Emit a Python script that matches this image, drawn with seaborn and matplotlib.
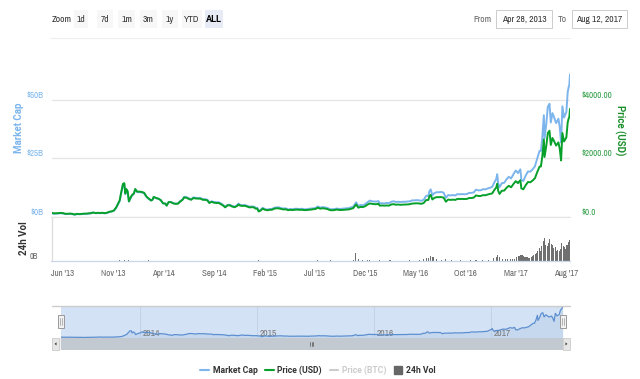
import numpy as np
import pandas as pd
import matplotlib
matplotlib.use("Agg")
import matplotlib.pyplot as plt
from matplotlib import font_manager
from matplotlib.lines import Line2D
from matplotlib.patches import Rectangle, Polygon
import seaborn as sns

# ---- data ----
dates = [
    # 2013
    "2013-04-28", "2013-05-05", "2013-05-12", "2013-05-19", "2013-05-26", "2013-06-02", "2013-06-09", "2013-06-16", "2013-06-23", "2013-06-30",
    "2013-07-07", "2013-07-14", "2013-07-21", "2013-07-28", "2013-08-04", "2013-08-11", "2013-08-18", "2013-08-25", "2013-09-01", "2013-09-08",
    "2013-09-15", "2013-09-22", "2013-09-29", "2013-10-06", "2013-10-13", "2013-10-20", "2013-10-27", "2013-11-03", "2013-11-10", "2013-11-17",
    "2013-11-20", "2013-11-24", "2013-11-30", "2013-12-04", "2013-12-07", "2013-12-10", "2013-12-14", "2013-12-18", "2013-12-22", "2013-12-27",
    # 2014
    "2014-01-02", "2014-01-06", "2014-01-12", "2014-01-19", "2014-01-26", "2014-02-02", "2014-02-09", "2014-02-16", "2014-02-23", "2014-02-27",
    "2014-03-03", "2014-03-10", "2014-03-17", "2014-03-24", "2014-03-31", "2014-04-07", "2014-04-11", "2014-04-17", "2014-04-24", "2014-05-01",
    "2014-05-08", "2014-05-15", "2014-05-22", "2014-05-29", "2014-06-03", "2014-06-10", "2014-06-17", "2014-06-24", "2014-07-01", "2014-07-08",
    "2014-07-15", "2014-07-22", "2014-07-29", "2014-08-05", "2014-08-12", "2014-08-18", "2014-08-25", "2014-09-01", "2014-09-08", "2014-09-15",
    "2014-09-22", "2014-09-29", "2014-10-05", "2014-10-12", "2014-10-19", "2014-10-26", "2014-11-02", "2014-11-09", "2014-11-14", "2014-11-19",
    "2014-11-26", "2014-12-03", "2014-12-10", "2014-12-17", "2014-12-24", "2014-12-31",
    # 2015
    "2015-01-05", "2015-01-10", "2015-01-14", "2015-01-20", "2015-01-26", "2015-02-02", "2015-02-09", "2015-02-16", "2015-02-23", "2015-03-02",
    "2015-03-09", "2015-03-16", "2015-03-23", "2015-03-30", "2015-04-06", "2015-04-13", "2015-04-20", "2015-04-27", "2015-05-04", "2015-05-11",
    "2015-05-18", "2015-05-25", "2015-06-01", "2015-06-08", "2015-06-15", "2015-06-22", "2015-06-29", "2015-07-06", "2015-07-12", "2015-07-19",
    "2015-07-26", "2015-08-02", "2015-08-09", "2015-08-18", "2015-08-25", "2015-09-01", "2015-09-08", "2015-09-15", "2015-09-22", "2015-09-29",
    "2015-10-06", "2015-10-13", "2015-10-20", "2015-10-27", "2015-11-03", "2015-11-05", "2015-11-11", "2015-11-18", "2015-11-25", "2015-12-02",
    "2015-12-09", "2015-12-16", "2015-12-23", "2015-12-30",
    # 2016
    "2016-01-06", "2016-01-11", "2016-01-15", "2016-01-22", "2016-01-29", "2016-02-05", "2016-02-12", "2016-02-19", "2016-02-26", "2016-03-04",
    "2016-03-11", "2016-03-18", "2016-03-25", "2016-04-01", "2016-04-08", "2016-04-15", "2016-04-22", "2016-04-29", "2016-05-06", "2016-05-13",
    "2016-05-20", "2016-05-27", "2016-06-03", "2016-06-10", "2016-06-13", "2016-06-17", "2016-06-22", "2016-06-28", "2016-07-05", "2016-07-12",
    "2016-07-19", "2016-07-26", "2016-08-02", "2016-08-09", "2016-08-16", "2016-08-23", "2016-08-30", "2016-09-06", "2016-09-13", "2016-09-20",
    "2016-09-27", "2016-10-04", "2016-10-11", "2016-10-18", "2016-10-25", "2016-11-01", "2016-11-08", "2016-11-15", "2016-11-22", "2016-11-29",
    "2016-12-06", "2016-12-13", "2016-12-20", "2016-12-27",
    # 2017
    "2017-01-01", "2017-01-04", "2017-01-07", "2017-01-11", "2017-01-18", "2017-01-25", "2017-02-01", "2017-02-08", "2017-02-15", "2017-02-22",
    "2017-03-01", "2017-03-08", "2017-03-10", "2017-03-15", "2017-03-18", "2017-03-24", "2017-03-31", "2017-04-07", "2017-04-14", "2017-04-21",
    "2017-04-28", "2017-05-05", "2017-05-12", "2017-05-16", "2017-05-20", "2017-05-25", "2017-05-27", "2017-06-01", "2017-06-06", "2017-06-11",
    "2017-06-15", "2017-06-20", "2017-06-25", "2017-07-01", "2017-07-08", "2017-07-12", "2017-07-16", "2017-07-20", "2017-07-25", "2017-08-01",
    "2017-08-05", "2017-08-08", "2017-08-10", "2017-08-12",
]

price_usd = [
    135, 115, 117, 123, 131, 122, 100, 100, 108, 97,
    76, 97, 91, 95, 105, 104, 115, 122, 146, 126,
    132, 129, 134, 122, 138, 170, 185, 217, 330, 490,
    560, 800, 1130, 1150, 800, 950, 880, 530, 630, 740,
    800, 950, 860, 860, 850, 820, 690, 620, 560, 580,
    680, 640, 620, 570, 460, 450, 380, 500, 500, 455,
    440, 445, 520, 580, 660, 650, 610, 580, 640, 625,
    620, 620, 580, 580, 560, 470, 510, 480, 470, 470,
    430, 380, 320, 390, 390, 350, 325, 360, 420, 380,
    370, 375, 350, 320, 325, 320,
    275, 275, 180, 210, 275, 240, 220, 235, 238, 275,
    290, 285, 265, 248, 255, 224, 235, 228, 240, 242,
    235, 238, 225, 228, 236, 245, 257, 270, 310, 275,
    290, 280, 265, 225, 220, 230, 245, 230, 230, 237,
    246, 250, 270, 295, 400, 420, 310, 335, 330, 360,
    415, 455, 440, 430,
    430, 445, 380, 385, 380, 385, 380, 420, 430, 410,
    418, 408, 415, 417, 420, 430, 450, 455, 460, 455,
    442, 470, 570, 575, 700, 750, 590, 645, 670, 670,
    672, 655, 515, 590, 575, 585, 575, 610, 608, 610,
    605, 610, 640, 640, 655, 730, 710, 710, 740, 735,
    760, 780, 800, 930,
    1000, 1130, 890, 780, 890, 895, 990, 1060, 1010, 1120,
    1220, 1150, 1190, 1250, 970, 940, 1080, 1190, 1180, 1240,
    1320, 1530, 1720, 1720, 2040, 2650, 2050, 2400, 2870, 2950,
    2460, 2700, 2590, 2440, 2550, 2330, 1930, 2870, 2580, 2720,
    3230, 3370, 3420, 3700,
]

market_cap_b = [
    1.50, 1.28, 1.30, 1.37, 1.47, 1.37, 1.12, 1.13, 1.22, 1.10,
    0.86, 1.10, 1.04, 1.09, 1.21, 1.20, 1.33, 1.42, 1.70, 1.47,
    1.54, 1.51, 1.57, 1.43, 1.62, 2.00, 2.18, 2.57, 3.92, 5.83,
    6.67, 9.55, 13.5, 13.8, 9.6, 11.4, 10.6, 6.4, 7.6, 8.95,
    9.7, 11.6, 10.5, 10.5, 10.4, 10.0, 8.5, 7.6, 6.9, 7.2,
    8.4, 7.9, 7.7, 7.1, 5.7, 5.6, 4.8, 6.3, 6.3, 5.8,
    5.6, 5.7, 6.7, 7.4, 8.5, 8.4, 7.9, 7.5, 8.3, 8.1,
    8.0, 8.0, 7.5, 7.5, 7.3, 6.1, 6.6, 6.3, 6.2, 6.2,
    5.7, 5.0, 4.2, 5.1, 5.1, 4.6, 4.3, 4.8, 5.6, 5.1,
    4.9, 5.0, 4.7, 4.3, 4.4, 4.3,
    3.8, 3.8, 2.5, 2.9, 3.8, 3.3, 3.0, 3.3, 3.3, 3.8,
    4.0, 4.0, 3.7, 3.5, 3.6, 3.1, 3.3, 3.2, 3.4, 3.4,
    3.3, 3.4, 3.2, 3.2, 3.4, 3.5, 3.6, 3.8, 4.4, 3.9,
    4.1, 4.0, 3.8, 3.2, 3.2, 3.3, 3.5, 3.3, 3.4, 3.5,
    3.6, 3.7, 4.0, 4.3, 5.9, 6.2, 4.6, 5.0, 4.9, 5.4,
    6.2, 6.9, 6.6, 6.5,
    6.5, 6.7, 5.7, 5.8, 5.7, 5.9, 5.8, 6.4, 6.6, 6.3,
    6.4, 6.3, 6.4, 6.4, 6.5, 6.6, 7.0, 7.0, 7.1, 7.0,
    6.8, 7.3, 8.9, 9.0, 10.9, 11.7, 9.2, 10.1, 10.5, 10.5,
    10.6, 10.3, 8.1, 9.3, 9.1, 9.3, 9.1, 9.7, 9.6, 9.7,
    9.6, 9.7, 10.2, 10.2, 10.4, 11.6, 11.3, 11.3, 11.8, 11.7,
    12.1, 12.4, 12.8, 14.9,
    16.1, 18.2, 14.3, 12.6, 14.4, 14.5, 16.0, 17.1, 16.4, 18.2,
    19.8, 18.7, 19.3, 20.3, 15.8, 15.3, 17.6, 19.4, 19.3, 20.3,
    21.6, 25.0, 28.2, 28.2, 33.4, 43.5, 33.6, 39.4, 47.1, 48.4,
    40.4, 44.4, 42.6, 40.1, 42.0, 38.4, 31.8, 47.3, 42.5, 44.9,
    53.3, 55.6, 56.5, 61.0,
]

vol_dates = [
    "2013-05-15", "2013-06-15", "2013-07-15", "2013-08-15", "2013-09-15", "2013-10-15", "2013-11-20", "2013-12-04", "2013-12-18",
    "2014-01-15", "2014-02-15", "2014-03-15", "2014-04-11", "2014-05-15", "2014-06-15", "2014-07-15", "2014-08-15", "2014-09-15",
    "2014-10-15", "2014-11-15", "2014-12-15",
    "2015-01-14", "2015-02-15", "2015-03-15", "2015-04-15", "2015-05-15", "2015-06-15", "2015-07-12", "2015-08-18", "2015-09-15",
    "2015-10-15", "2015-10-27", "2015-11-04", "2015-11-11", "2015-11-25", "2015-12-09", "2015-12-16",
    "2016-01-15", "2016-02-15", "2016-03-15", "2016-04-15", "2016-05-15", "2016-05-27", "2016-06-03", "2016-06-10", "2016-06-17",
    "2016-06-24", "2016-07-05", "2016-07-19", "2016-08-02", "2016-08-20", "2016-09-15", "2016-10-15", "2016-11-01", "2016-11-20",
    "2016-12-10", "2016-12-24",
    "2017-01-01", "2017-01-05", "2017-01-11", "2017-01-20", "2017-01-28", "2017-02-05", "2017-02-12", "2017-02-19", "2017-02-26",
    "2017-03-03", "2017-03-08", "2017-03-12", "2017-03-16", "2017-03-20", "2017-03-24", "2017-03-28",
    "2017-04-01", "2017-04-05", "2017-04-09", "2017-04-13", "2017-04-17", "2017-04-21", "2017-04-25", "2017-04-29",
    "2017-05-03", "2017-05-07", "2017-05-11", "2017-05-15", "2017-05-19", "2017-05-23", "2017-05-27", "2017-05-31",
    "2017-06-04", "2017-06-08", "2017-06-12", "2017-06-16", "2017-06-20", "2017-06-24", "2017-06-28",
    "2017-07-02", "2017-07-06", "2017-07-10", "2017-07-14", "2017-07-18", "2017-07-22", "2017-07-26", "2017-07-30",
    "2017-08-03", "2017-08-07", "2017-08-11",
]

vol_b = [
    0.02, 0.02, 0.02, 0.02, 0.02, 0.03, 0.08, 0.10, 0.06,
    0.04, 0.05, 0.03, 0.04, 0.02, 0.03, 0.02, 0.03, 0.03,
    0.03, 0.04, 0.02,
    0.06, 0.03, 0.03, 0.03, 0.02, 0.02, 0.05, 0.05, 0.03,
    0.04, 0.12, 0.75, 0.20, 0.08, 0.10, 0.12,
    0.08, 0.05, 0.04, 0.05, 0.06, 0.15, 0.25, 0.30, 0.45,
    0.35, 0.18, 0.12, 0.20, 0.08, 0.07, 0.08, 0.12, 0.10,
    0.12, 0.25,
    0.35, 0.55, 0.40, 0.20, 0.15, 0.18, 0.15, 0.18, 0.22,
    0.40, 0.45, 0.50, 0.55, 0.60, 0.45, 0.40,
    0.35, 0.38, 0.32, 0.30, 0.35, 0.45, 0.55, 0.65,
    0.80, 1.00, 1.25, 0.95, 1.45, 2.00, 2.30, 1.60,
    1.50, 1.80, 2.20, 1.70, 1.55, 1.30, 1.40,
    1.00, 1.05, 0.95, 1.20, 1.80, 1.50, 1.35, 1.15,
    1.60, 1.90, 2.05,
]

tick_dates = ["2013-06-01", "2013-11-01", "2014-04-01", "2014-09-01", "2015-02-01", "2015-07-01",
              "2015-12-01", "2016-05-01", "2016-10-01", "2017-03-01", "2017-08-01"]
tick_labels = ["Jun '13", "Nov '13", "Apr '14", "Sep '14", "Feb '15", "Jul '15",
               "Dec '15", "May '16", "Oct '16", "Mar '17", "Aug '17"]
nav_years = ["2014", "2015", "2016", "2017"]

cap_ticks = [0, 25, 50]
cap_labels = ["$0B", "$25B", "$50B"]
price_ticks = [0, 2000, 4000]
price_labels = ["$0.0", "$2000.00", "$4000.00"]
zoom_buttons = ["1d", "7d", "1m", "3m", "1y", "YTD", "ALL"]
legend_labels = ["Market Cap", "Price (USD)", "Price (BTC)", "24h Vol"]

# ---- style ----
BLUE = "#7cb5ec"
GREEN = "#06a02a"
GRID = "#e6e6e6"
AXIS = "#ccd6eb"
TXT = "#666666"

sns.set_theme(style="white")
ttf = font_manager.fontManager.ttflist
names = sorted({f.name for f in ttf})
narrow = [n for n in names if "Narrow" in n or "Condensed" in n]
FONT = narrow[0] if narrow else "Liberation Sans"
has_bold = any(f.name == FONT and str(f.weight) in ("700", "bold", "600", "semibold") for f in ttf)
BOLD = [FONT, "DejaVu Sans"] if has_bold else ["Liberation Sans Narrow", "Roboto", "DejaVu Sans"]
if "Liberation Sans Narrow" not in names and not has_bold:
    BOLD = ["Roboto", "DejaVu Sans"]
plt.rcParams["font.family"] = [FONT, "DejaVu Sans"]

df = pd.DataFrame({"date": pd.to_datetime(dates), "cap": market_cap_b, "price": price_usd})
vdf = pd.DataFrame({"date": pd.to_datetime(vol_dates), "vol": vol_b})
x0, x1 = pd.Timestamp("2013-04-28"), pd.Timestamp("2017-08-12")

W, H = 640, 379
fig = plt.figure(figsize=(W / 100, H / 100), dpi=100)


def box(l, t, r, b):
    return [l / W, 1 - b / H, (r - l) / W, (b - t) / H]


def fx(x):
    return x / W


def fy(y):
    return 1 - y / H


# ---- main panel: market cap (left) + price (right) ----
ax_cap = fig.add_axes(box(51.5, 45, 570, 216.7))
sns.lineplot(data=df, x="date", y="cap", ax=ax_cap, color=BLUE, lw=1.4, estimator=None)
ax_price = ax_cap.twinx()
sns.lineplot(data=df, x="date", y="price", ax=ax_price, color=GREEN, lw=1.4, estimator=None)

ax_cap.set_xlim(x0, x1)
ax_cap.set_ylim(0, 73.6)
ax_price.set_ylim(0, 5890)
ax_cap.set_yticks(cap_ticks)
ax_cap.set_yticklabels(cap_labels)
ax_price.set_yticks(price_ticks)
ax_price.set_yticklabels(price_labels)
ax_cap.grid(axis="y", color=GRID, lw=1)
ax_cap.set_axisbelow(True)
ax_price.grid(False)
for a in (ax_cap, ax_price):
    a.set_xlabel("")
    a.set_ylabel("")
    for s in a.spines.values():
        s.set_visible(False)
    a.tick_params(axis="x", bottom=False, labelbottom=False)
    a.patch.set_alpha(0)
ax_cap.tick_params(axis="y", length=0, pad=6, labelsize=6.4, labelcolor=BLUE)
ax_price.tick_params(axis="y", length=0, pad=8, labelsize=6.4, labelcolor="#2f9e44")
for t in ax_cap.get_yticklabels() + ax_price.get_yticklabels():
    t.set_va("bottom")

fig.text(fx(19), fy(128), "Market Cap", rotation=90, ha="center", va="center",
         color=BLUE, fontsize=7, fontweight="bold", family=BOLD)
fig.text(fx(620), fy(130), "Price (USD)", rotation=270, ha="center", va="center",
         color="#1c8f2c", fontsize=7, fontweight="bold", family=BOLD)

# ---- volume panel ----
ax_vol = fig.add_axes(box(51.5, 216.7, 570, 261))
ax_vol.bar(vdf["date"], vdf["vol"], width=3.2, color="#707070", linewidth=0)
ax_vol.set_xlim(x0, x1)
ax_vol.set_ylim(0, 4.4)
ax_vol.set_yticks([0])
ax_vol.set_yticklabels(["0B"])
ax_vol.set_xticks(pd.to_datetime(tick_dates))
ax_vol.set_xticklabels(tick_labels)
ax_vol.tick_params(axis="x", length=4.3, width=0.8, color=AXIS, pad=1.5, labelsize=6.4, labelcolor=TXT)
ax_vol.tick_params(axis="y", length=0, pad=9.5, labelsize=6, labelcolor=TXT)
for t in ax_vol.get_yticklabels():
    t.set_va("bottom")
ax_vol.spines["right"].set_visible(False)
ax_vol.spines["top"].set_color(GRID)
ax_vol.spines["left"].set_color("#dddddd")
ax_vol.spines["bottom"].set_color(AXIS)
for s in ax_vol.spines.values():
    s.set_linewidth(0.9)
fig.text(fx(24), fy(238), "24h Vol", rotation=90, ha="center", va="center",
         color="#333333", fontsize=7, fontweight="bold", family=BOLD)

# ---- navigator ----
ax_nav = fig.add_axes(box(60.7, 305.7, 562.7, 337.7))
ax_nav.set_facecolor("#d3e2f4")
for y in nav_years:
    d = pd.Timestamp(f"{y}-01-01")
    ax_nav.axvline(d, color="#c3d2e6", lw=0.7, zorder=1)
    ax_nav.text(d + pd.Timedelta(days=8), 0.14, y, transform=ax_nav.get_xaxis_transform(),
                fontsize=6.8, color="#777777", va="center", ha="left", zorder=3)
ax_nav.fill_between(df["date"], df["cap"], 0, color="#b9cfea", alpha=0.5, lw=0, zorder=2)
sns.lineplot(data=df, x="date", y="cap", ax=ax_nav, color="#5d8fd0", lw=0.9, estimator=None, zorder=4)
ax_nav.set_xlim(x0, x1)
ax_nav.set_ylim(0.4, 62)
ax_nav.set_xticks([])
ax_nav.set_yticks([])
ax_nav.set_xlabel("")
ax_nav.set_ylabel("")
for s in ax_nav.spines.values():
    s.set_visible(False)

fig.add_artist(Line2D([fx(51.7), fx(570)], [fy(305.7), fy(305.7)], color="#cccccc", lw=1))
# handles
for hx in (60.7, 562.7):
    fig.add_artist(Rectangle((fx(hx - 3), fy(328)), 6 / W, 13 / H, facecolor="#f2f2f2",
                             edgecolor="#999999", lw=0.7))
    for dx in (-1, 1):
        fig.add_artist(Line2D([fx(hx + dx), fx(hx + dx)], [fy(318), fy(325)], color="#999999", lw=0.5))

# scrollbar
fig.add_artist(Rectangle((fx(51.7), fy(350)), (570 - 51.7) / W, 12.3 / H, facecolor="#f2f2f2", lw=0))
fig.add_artist(Rectangle((fx(60.7), fy(350)), (562.7 - 60.7) / W, 12.3 / H, facecolor="#c3c9d0", lw=0))
for bl in (51.7, 562.7):
    fig.add_artist(Rectangle((fx(bl), fy(350)), 7.5 / W, 12.3 / H, facecolor="#e6e6e6",
                             edgecolor="#cccccc", lw=0.6))
fig.add_artist(Polygon([[fx(56.5), fy(342.3)], [fx(56.5), fy(345.5)], [fx(54.6), fy(343.9)]],
                       closed=True, color="#333333", lw=0))
fig.add_artist(Polygon([[fx(565.5), fy(342.3)], [fx(565.5), fy(345.5)], [fx(567.4), fy(343.9)]],
                       closed=True, color="#333333", lw=0))
for gx in (310.2, 311.7, 313.2):
    fig.add_artist(Line2D([fx(gx), fx(gx)], [fy(341.5), fy(346.3)], color="#555555", lw=0.5))

# ---- header: range selector ----
fig.text(fx(52), fy(19), "Zoom", fontsize=6.8, color="#333333", ha="left", va="center")
btn_edges = [(74, 88), (97, 113), (118, 135), (140, 157), (162, 178), (182, 202), (205, 223)]
for lbl, (l, r) in zip(zoom_buttons, btn_edges):
    active = lbl == "ALL"
    fig.add_artist(Rectangle((fx(l), fy(28)), (r - l) / W, 18 / H,
                             facecolor="#e6ebf5" if active else "#f7f7f7", lw=0))
    if active:
        fig.text(fx((l + r) / 2), fy(19), lbl, fontsize=6.6, ha="center", va="center",
                 color="#000000", fontweight="bold", family=BOLD)
    else:
        fig.text(fx((l + r) / 2), fy(19), lbl, fontsize=6.8, ha="center", va="center", color="#333333")
fig.add_artist(Line2D([fx(50), fx(570)], [fy(38), fy(38)], color="#eeeeee", lw=0.8))

fig.text(fx(492), fy(19), "From", fontsize=6.8, color="#666666", ha="right", va="center")
fig.text(fx(567), fy(19), "To", fontsize=6.8, color="#666666", ha="right", va="center")
for (l, r), txt in zip([(496, 552), (572, 627)], ["Apr 28, 2013", "Aug 12, 2017"]):
    fig.add_artist(Rectangle((fx(l), fy(28)), (r - l) / W, 18 / H, facecolor="white",
                             edgecolor="#cccccc", lw=0.7))
    fig.text(fx((l + r) / 2), fy(19), txt, fontsize=6.8, color="#333333", ha="center", va="center")

# ---- legend ----
handles = [
    Line2D([], [], color=BLUE, lw=1.5),
    Line2D([], [], color=GREEN, lw=1.5),
    Line2D([], [], color="#cccccc", lw=1.5),
    Line2D([], [], color="#666666", marker="s", ls="none", markersize=5.5),
]
leg = fig.legend(handles, legend_labels, loc="center", bbox_to_anchor=(fx(318), fy(370.7)),
                 ncol=4, frameon=False, handlelength=1.0, handletextpad=0.4, columnspacing=0.9,
                 prop={"size": 6.2, "weight": "bold", "family": BOLD})
for t, c in zip(leg.get_texts(), ["#333333", "#333333", "#cccccc", "#333333"]):
    t.set_color(c)

fig.savefig("out.png", dpi=100)
